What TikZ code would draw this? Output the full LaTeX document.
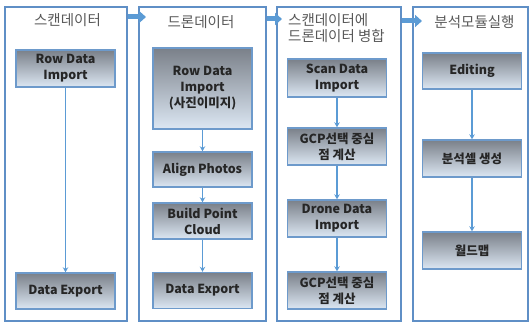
\documentclass[tikz,border=0pt]{standalone}
\usepackage{fontspec}
\newfontfamily\kr{Noto Sans CJK KR}
\usetikzlibrary{arrows.meta,positioning}
\definecolor{frameblue}{HTML}{5F8FC6}
\definecolor{lineblue}{HTML}{5B9BD5}
\definecolor{boxedge}{HTML}{6D9ACB}
\definecolor{boxtop}{HTML}{7A8089}
\definecolor{boxbot}{HTML}{DCE7F3}
\definecolor{titlegray}{HTML}{595959}

\begin{document}
\begin{tikzpicture}[x=1pt,y=-1pt,
  panel/.style={draw=frameblue, line width=2pt, minimum width=#1, minimum height=314pt, inner sep=0pt},
  stepbox/.style={draw=boxedge, line width=1.4pt, top color=boxtop, bottom color=boxbot,
    minimum width=99pt, minimum height=#1, inner sep=1pt, align=center, text=black!85,
    font=\kr\bfseries\fontsize{12.5}{16}\selectfont},
  stepbox/.default=37pt,
  title/.style={text=titlegray, font=\kr\fontsize{14.5}{16}\selectfont, inner sep=0pt},
  link/.style={draw=lineblue, line width=1.6pt, -{Stealth[length=5pt,width=5.5pt]}},
  bigarrow/.style={draw=lineblue, line width=5pt, -{Triangle[length=7pt,width=12pt]}}]
  \useasboundingbox (0,0) rectangle (530,323);

  % four stages
  \node[panel=122pt] (p1) at (66,164) {};
  \node[panel=127pt] (p2) at (202.5,164) {};
  \node[panel=124pt] (p3) at (339,164) {};
  \node[panel=115pt] (p4) at (470.5,164) {};

  \draw[bigarrow] ([yshift=-11pt]p1.north east) -- ([xshift=8pt,yshift=-11pt]p2.north west);
  \draw[bigarrow] ([yshift=-13pt]p2.north east) -- ([xshift=6pt,yshift=-13pt]p3.north west);
  \draw[bigarrow] ([yshift=-15pt]p3.north east) -- ([xshift=10pt,yshift=-15pt]p4.north west);

  \node[title] (t1) at (67.5,20) {스캔데이터};
  \node[title] (t2) at (201,22.5) {드론데이터};
  \node[title, anchor=west, align=left] (t3) at (288,28.5) {스캔데이터에\\드론데이터 병합};
  \node[title] (t4) at (474.5,22.5) {분석모듈실행};

  % scan data
  \node[stepbox] (s1) at (65.5,68.5) {Row Data\\Import};
  \node[stepbox=36pt] (s2) at (65.5,291) {Data Export};
  \draw[link] (s1) -- (s2);

  % drone data
  \node[stepbox=81pt] (d1) at (202.5,88.5) {Row Data\\Import\\(사진이미지)};
  \node[stepbox=35pt] (d2) at (202.5,169.5) {Align Photos};
  \node[stepbox=36pt] (d3) at (202.5,221) {Build Point\\Cloud};
  \node[stepbox=36pt] (d4) at (202.5,290.5) {Data Export};
  \draw[link] (d1) -- (d2);
  \draw[link] (d2) -- (d3);
  \draw[link] (d3) -- (d4);

  % merge
  \node[stepbox=38pt] (m1) at (337,78) {Scan Data\\Import};
  \node[stepbox] (m2) at (337,146.5) {GCP선택 중심\\점 계산};
  \node[stepbox] (m3) at (337,218.5) {Drone Data\\Import};
  \node[stepbox] (m4) at (337,290.5) {GCP선택 중심\\점 계산};
  \draw[link] (m1) -- (m2);
  \draw[link] (m2) -- (m3);
  \draw[link] (m3) -- (m4);

  % analysis
  \node[stepbox=36pt] (a1) at (472,71) {Editing};
  \node[stepbox] (a2) at (472,158.5) {분석셀 생성};
  \node[stepbox] (a3) at (472,250.5) {월드맵};
  \draw[link] (a1) -- (a2);
  \draw[link] (a2) -- (a3);
\end{tikzpicture}
\end{document}
